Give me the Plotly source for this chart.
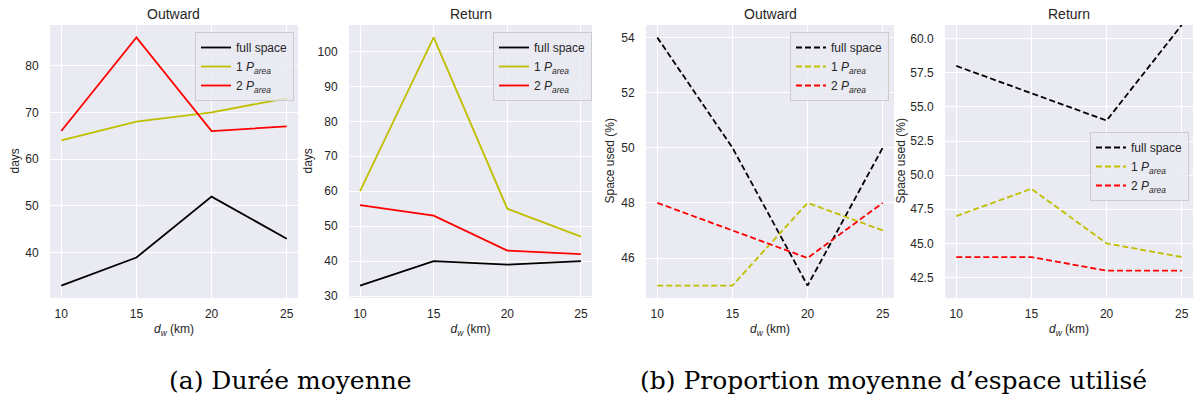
import plotly.graph_objects as go

W, H = 1195, 401

dw = [10, 15, 20, 25]
x_ticks = [10, 15, 20, 25]
series_names = ["full space", "1 <i>P</i><sub><i>area</i></sub>", "2 <i>P</i><sub><i>area</i></sub>"]
series_colors = ["#000000", "#BFBF00", "#FF0000"]

# (a) mean duration (days)
outward_days_full = [33, 39, 52, 43]
outward_days_1p = [64, 68, 70, 73]
outward_days_2p = [66, 86, 66, 67]
return_days_full = [33, 40, 39, 40]
return_days_1p = [60, 104, 55, 47]
return_days_2p = [56, 53, 43, 42]

# (b) mean proportion of space used (%)
outward_space_full = [54, 50, 45, 50]
outward_space_1p = [45, 45, 48, 47]
outward_space_2p = [48, 47, 46, 48]
return_space_full = [58, 56, 54, 61]
return_space_1p = [47, 49, 45, 44]
return_space_2p = [44, 44, 43, 43]

panel_titles = ["Outward", "Return", "Outward", "Return"]
panel_ylabels = ["days", "days", "Space used (%)", "Space used (%)"]
captions = ["(a) Durée moyenne", "(b) Proportion moyenne d\u2019espace utilisé"]

panels = [
    dict(data=[outward_days_full, outward_days_1p, outward_days_2p], dash="solid",
         xpx=(50, 298), yrange=[30.35, 88.65], tick0=40, dtick=10, fmt="d",
         leg=(294, 32), ylab_x=15),
    dict(data=[return_days_full, return_days_1p, return_days_2p], dash="solid",
         xpx=(349, 592), yrange=[29.45, 107.55], tick0=30, dtick=10, fmt="d",
         leg=(592, 32), ylab_x=308),
    dict(data=[outward_space_full, outward_space_1p, outward_space_2p], dash="6px,3px",
         xpx=(646, 894), yrange=[44.55, 54.45], tick0=46, dtick=2, fmt="d",
         leg=(889, 32), ylab_x=610),
    dict(data=[return_space_full, return_space_1p, return_space_2p], dash="6px,3px",
         xpx=(945, 1193), yrange=[41, 61], tick0=42.5, dtick=2.5, fmt=".1f",
         leg=(1189, 132), ylab_x=901),
]

plot_top, plot_bot = 25, 298
y0 = 1 - plot_bot / H
y1 = 1 - plot_top / H

TXT = "#262626"
FONT = "Liberation Sans, Arial, sans-serif"

fig = go.Figure()
layout = dict(
    width=W, height=H,
    margin=dict(l=0, r=0, t=0, b=0),
    paper_bgcolor="white",
    plot_bgcolor="#EAEAF2",
    font=dict(family=FONT, size=12, color=TXT),
    annotations=[],
)

for i, p in enumerate(panels):
    k = i + 1
    xa = "x" if k == 1 else f"x{k}"
    ya = "y" if k == 1 else f"y{k}"
    legname = "legend" if k == 1 else f"legend{k}"
    for j in range(3):
        fig.add_trace(go.Scatter(
            x=dw, y=p["data"][j], mode="lines", name=series_names[j],
            line=dict(color=series_colors[j], width=1.8, dash=p["dash"]),
            xaxis=xa, yaxis=ya, legend=legname, showlegend=True,
        ))
    xd = [p["xpx"][0] / W, p["xpx"][1] / W]
    axkey_x = "xaxis" if k == 1 else f"xaxis{k}"
    axkey_y = "yaxis" if k == 1 else f"yaxis{k}"
    layout[axkey_x] = dict(
        domain=xd, anchor=ya, range=[9.25, 25.75], tickvals=x_ticks, automargin=False,
        showgrid=True, gridcolor="white", gridwidth=1, zeroline=False,
        showline=False, ticks="outside", ticklen=5, tickcolor="rgba(0,0,0,0)",
        tickfont=dict(size=12, color=TXT),
        title=dict(text="<i>d</i><sub><i>w</i></sub> (km)", font=dict(size=12, color=TXT), standoff=4),
    )
    layout[axkey_y] = dict(
        domain=[y0, y1], anchor=xa, range=p["yrange"], tick0=p["tick0"], dtick=p["dtick"],
        tickformat=p["fmt"], showgrid=True, gridcolor="white", gridwidth=1, zeroline=False,
        automargin=False,
        showline=False, ticks="outside", ticklen=8, tickcolor="rgba(0,0,0,0)",
        tickfont=dict(size=12, color=TXT),
    )
    layout[legname] = dict(
        x=p["leg"][0] / W, y=1 - p["leg"][1] / H, xanchor="right", yanchor="top",
        xref="paper", yref="paper",
        bgcolor="rgba(234,234,242,0.8)", bordercolor="#CCCCCC", borderwidth=1,
        font=dict(size=12, color=TXT), tracegroupgap=0,
    )
    layout["annotations"].append(dict(
        text=panel_titles[i], x=(xd[0] + xd[1]) / 2, y=1 - 14 / H, xref="paper", yref="paper",
        xanchor="center", yanchor="middle", showarrow=False, font=dict(size=14, color=TXT),
    ))
    layout["annotations"].append(dict(
        text=panel_ylabels[i], x=p["ylab_x"] / W, y=(y0 + y1) / 2, xref="paper", yref="paper",
        xanchor="center", yanchor="middle", textangle=-90, showarrow=False,
        font=dict(size=12, color=TXT),
    ))

cap_x = [290, 893]
for c, cx in zip(captions, cap_x):
    layout["annotations"].append(dict(
        text=c, x=cx / W, y=1 - 380 / H, xref="paper", yref="paper",
        xanchor="center", yanchor="middle", showarrow=False,
        font=dict(size=25, color="#000000", family="DejaVu Serif, Liberation Serif, serif"),
    ))

fig.update_layout(**layout)
fig.write_html("out.html", config={"displayModeBar": False},
               post_script="document.body.style.margin='0';document.body.style.overflow='hidden';")
